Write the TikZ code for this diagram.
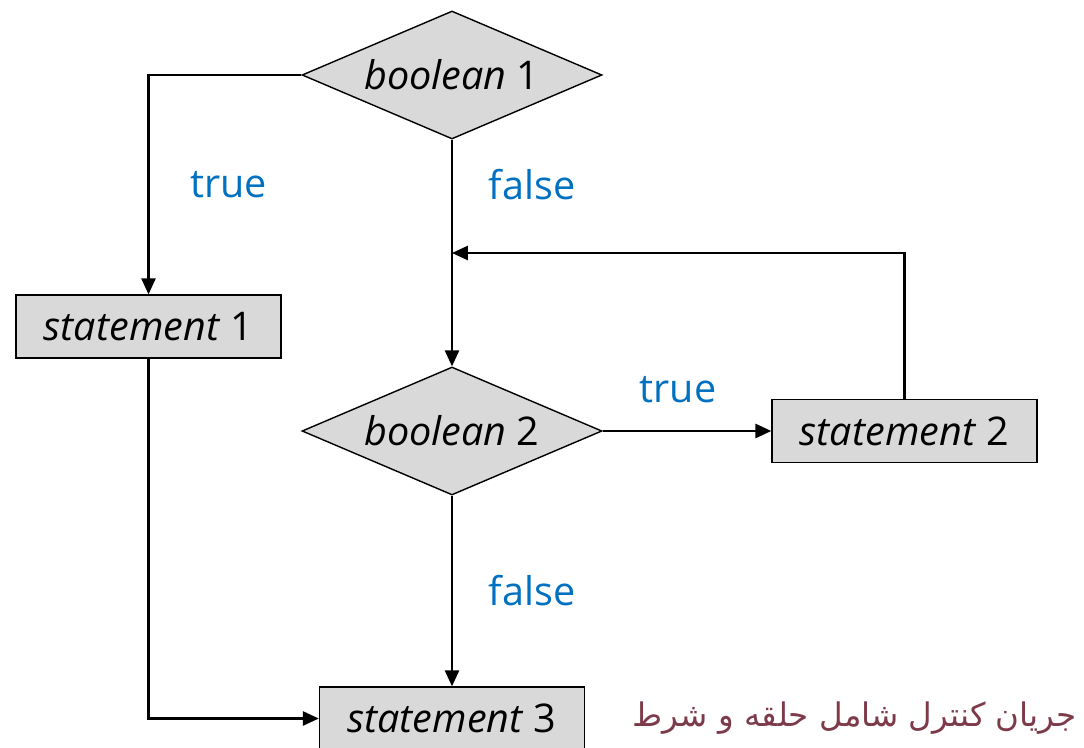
\documentclass[tikz,border=0pt]{standalone}
\usepackage{fontspec}
\setmainfont{Open Sans}
\newfontfamily\persianfont[Script=Arabic]{DejaVu Sans}
\TeXXeTstate=1
\usetikzlibrary{shapes.geometric,arrows.meta,positioning}
\definecolor{boxgray}{HTML}{D9D9D9}
\definecolor{labelblue}{HTML}{0070C0}
\definecolor{notered}{HTML}{7D3B4A}
\begin{document}
\begin{tikzpicture}
[decisiondecorate/.style={shape=diamond,draw,thick,fill=boxgray,aspect=2.34,%
    minimum width=6cm,minimum height=2.56cm,inner sep=0pt},%
  statedecorate/.style={shape=rectangle,draw,thick,fill=boxgray,%
    minimum width=5.3cm,minimum height=1.26cm},%
  linedecorate/.style={-{Triangle[length=9pt,width=8pt]},line width=1.2pt},%
  labeldecorate/.style={text=labelblue},%
  font=\fontsize{22.5}{27}\selectfont]
\useasboundingbox (0,0) rectangle (21.68,14.94);
%% decisions
\foreach \nodename/\num/\x/\y in {b1/1/9.04/13.44, b2/2/9.04/6.32}
{
  \node (\nodename) at (\x,\y) [decisiondecorate] {\textit{boolean} \num};
}
%% statements
\foreach \nodename/\num/\x/\y in {s1/1/2.97/8.41, s2/2/18.09/6.32, s3/3/9.04/0.57}
{
  \node (\nodename) at (\x,\y) [statedecorate] {\textit{statement} \num};
}
\coordinate (join) at (9.04,9.88);
%% connectors
\draw[linedecorate] (b1.west) -| node[pos=0.75,right=0.7cm,labeldecorate] {true} (s1.north);
\draw[linedecorate] (b1.south) -- node[pos=0.2,right=0.6cm,labeldecorate] {false} (b2.north);
\draw[linedecorate] (s2.north) |- (join);
\draw[linedecorate] (b2.east) -- node[midway,above=0.42cm,xshift=-0.18cm,labeldecorate] {true} (s2.west);
\draw[linedecorate] (b2.south) -- node[midway,right=0.6cm,labeldecorate] {false} (s3.north);
\draw[linedecorate] (s1.south) |- (s3.west);
%% caption
\node (caption) at (21.66,0.57) [anchor=east,text=notered,font=\fontsize{18.5}{22}\selectfont]
  {\persianfont\beginR جریان کنترل شامل حلقه و شرط\endR};
\end{tikzpicture}
\end{document}
